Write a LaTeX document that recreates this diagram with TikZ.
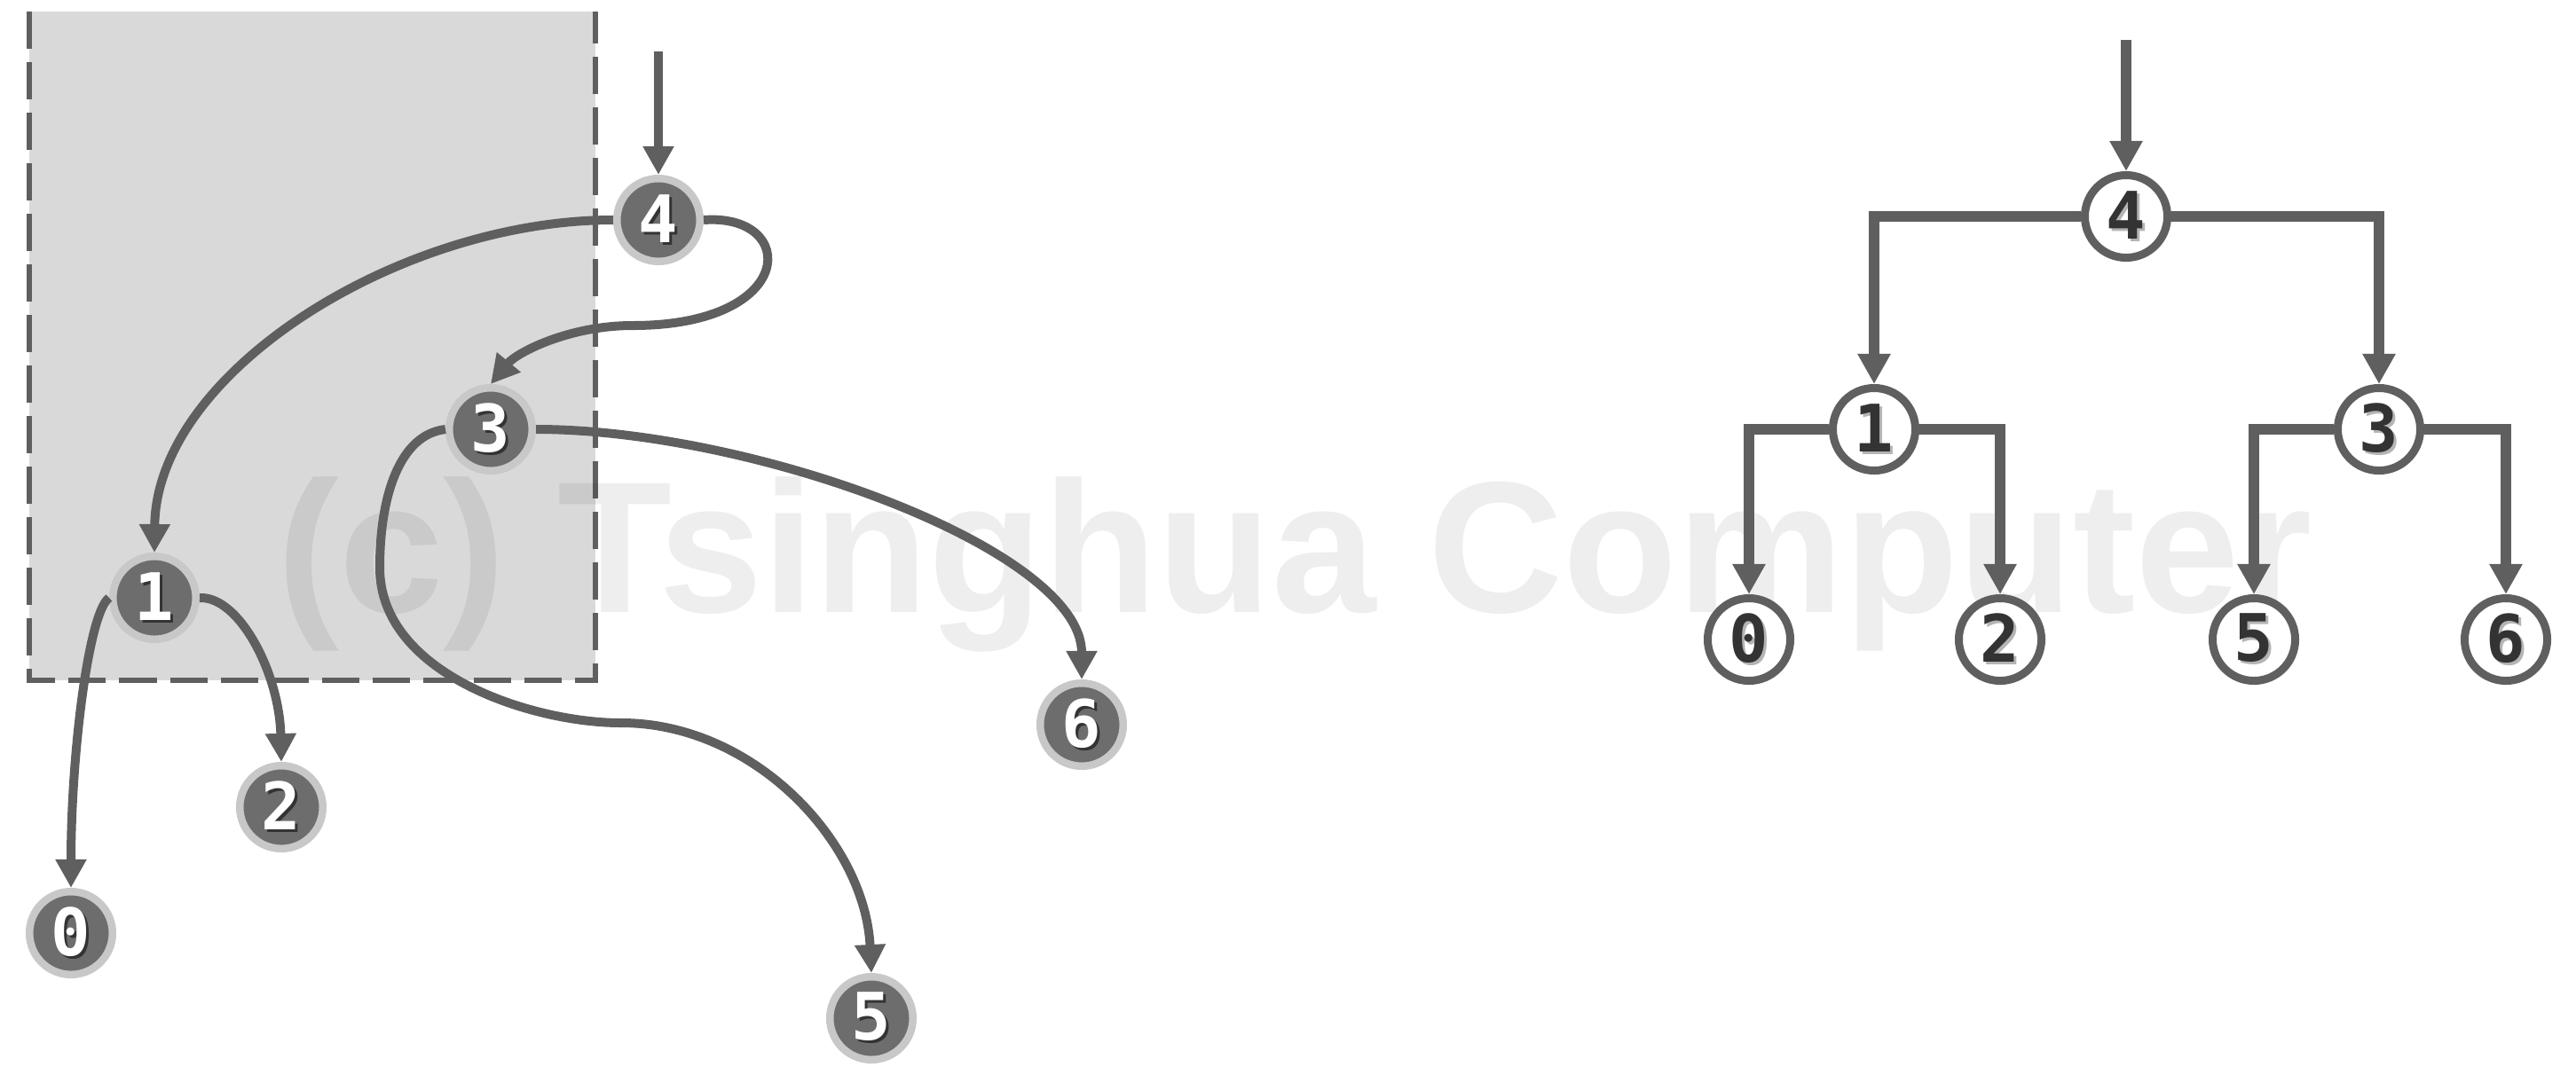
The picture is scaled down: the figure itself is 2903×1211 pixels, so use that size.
\documentclass[tikz,border=0pt]{standalone}
\usepackage{fontspec}
\usetikzlibrary{arrows.meta}
\newfontfamily\digitfont{DejaVu Sans Mono}
\newfontfamily\wmfont{Liberation Sans}
\definecolor{lnc}{HTML}{5F5F5F}
\definecolor{nodefill}{HTML}{6D6D6D}
\definecolor{ringc}{HTML}{C8C8C8}
\definecolor{rectfill}{HTML}{D9D9D9}
\definecolor{darkdigit}{HTML}{333333}
\definecolor{lightshadow}{HTML}{B4B4B4}
\newcommand{\shdigit}[3]{\leavevmode\rlap{\kern0.3mm\raisebox{-0.3mm}{\textcolor{#2}{#3}}}\textcolor{#1}{#3}}
\newcommand{\ldig}[1]{\shdigit{white}{darkdigit}{#1}}
\newcommand{\rdig}[1]{\shdigit{darkdigit}{lightshadow}{#1}}
\tikzset{
  ledge/.style={draw=lnc, line width=0.1cm, -{Triangle[length=0.32cm,width=0.33cm]}},
  redge/.style={draw=lnc, line width=0.115cm, -{Triangle[length=0.34cm,width=0.35cm]}},
  digitstyle/.style={font=\digitfont\bfseries\fontsize{21}{21}\selectfont},
  lnode/.style={circle, fill=nodefill, draw=ringc, line width=0.085cm, minimum size=0.935cm, inner sep=0pt, digitstyle},
  rnode/.style={circle, fill=white, draw=lnc, line width=0.09cm, minimum size=0.93cm, inner sep=0pt, digitstyle},
  borderline/.style={draw=lnc, line width=0.055cm, dash pattern=on 0.42cm off 0.15cm},
  watermark/.style={text=black, text opacity=0.065, font=\wmfont\bfseries\fontsize{60}{60}\selectfont, inner sep=0pt}
}
\begin{document}
\begin{tikzpicture}[x=0.01cm, y=-0.01cm]
\useasboundingbox (0,0) rectangle (2903,1211);
% shaded region
\fill[rectfill] (33,13) rectangle (671,767);
\draw[borderline] (33,13) -- (33,767) -- (671,767) -- (671,13);
% watermark
\node[watermark, anchor=base] (wm) at (1459,690) {(c) Tsinghua Computer};
% left nodes
\node[lnode] (l4) at (742,248) {\ldig{4}};
\node[lnode] (l3) at (553,484) {\ldig{3}};
\node[lnode] (l1) at (174,674) {\ldig{1}};
\node[lnode] (l2) at (317,910) {\ldig{2}};
\node[lnode] (l0) at (80,1052) {\ldig{0}};
\node[lnode] (l6) at (1219,817) {\ldig{6}};
\node[lnode] (l5) at (982,1148) {\ldig{5}};
\coordinate (lin) at (742,58);
% left edges
\draw[ledge] (lin) -- (l4.north);
\draw[ledge] (l4.west) .. controls (450,248) and (176,420) .. (l1.north);
\draw[ledge] (l4.east) .. controls (900,240) and (900,367) .. (713,367)
                       .. controls (640,367) and (582,398) .. (l3.north);
\draw[ledge] (l3.east) .. controls (850,484) and (1219,620) .. (l6.north);
\draw[ledge] (l3.west) .. controls (450,490) and (428,560) .. (428,640)
                       .. controls (428,760) and (600,815) .. (700,815)
                       .. controls (850,815) and (975,950) .. (l5.north);
\draw[ledge] (l1.west) .. controls (100,690) and (80,850) .. (l0.north);
\draw[ledge] (l1.east) .. controls (270,672) and (315,760) .. (l2.north);
% right tree
\node[rnode] (r4) at (2396,244) {\rdig{4}};
\node[rnode] (r1) at (2112,484) {\rdig{1}};
\node[rnode] (r3) at (2681,484) {\rdig{3}};
\node[rnode] (r0) at (1971,721) {\rdig{0}};
\node[rnode] (r2) at (2254,721) {\rdig{2}};
\node[rnode] (r5) at (2540,721) {\rdig{5}};
\node[rnode] (r6) at (2824,721) {\rdig{6}};
\coordinate (rin) at (2396,45);
\draw[redge] (rin) -- (r4.north);
\draw[redge] (r4.west) -| (r1.north);
\draw[redge] (r4.east) -| (r3.north);
\draw[redge] (r1.west) -| (r0.north);
\draw[redge] (r1.east) -| (r2.north);
\draw[redge] (r3.west) -| (r5.north);
\draw[redge] (r3.east) -| (r6.north);
\end{tikzpicture}
\end{document}
